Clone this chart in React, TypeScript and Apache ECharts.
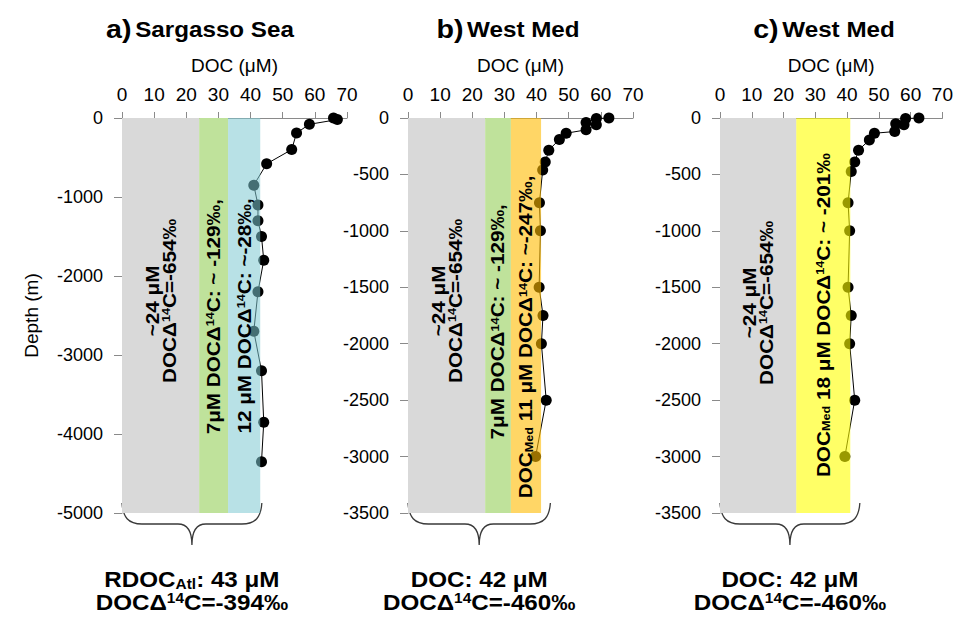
import React, { useEffect, useRef } from 'react';
import * as echarts from 'echarts';

const FONT = "'Liberation Sans', Arial, Helvetica, sans-serif";

// ---------- text / data ----------
const TITLE_LETTERS = ['a)', 'b)', 'c)'];
const TITLE_NAMES = ['Sargasso Sea', 'West Med', 'West Med'];
const X_AXIS_NAME = 'DOC (μM)';
const Y_AXIS_NAME = 'Depth (m)';
const DOC_MIN = 0;
const DOC_MAX = 70;
const DOC_STEP = 10;
const DEPTH_MIN = [-5000, -3500, -3500];
const DEPTH_STEP = [1000, 500, 500];

// a) Sargasso Sea profile
const DOC_A = [65.8, 67, 58.3, 54.3, 52.8, 45, 41, 42.3, 42.3, 43.4, 44.1, 42.3, 41, 43.4, 44.1, 43.4];
const DEPTH_A = [0, -20, -80, -190, -400, -580, -850, -1100, -1300, -1500, -1800, -2200, -2700, -3200, -3850, -4350];

// b) West Med profile
const DOC_B = [62.5, 58.6, 55.4, 58.6, 55.4, 49.2, 47.1, 43.8, 42.7, 41.9, 40.9, 41.2, 40.8, 42, 41.5, 43, 39.7];
const DEPTH_B = [0, -5, -40, -60, -105, -135, -190, -285, -390, -460, -750, -1000, -1500, -1750, -2000, -2500, -3000];

// c) West Med profile
const DOC_C = [62.6, 58.4, 55.3, 57.9, 55, 48.6, 47, 43.6, 42.4, 41.3, 40.3, 40.8, 40.3, 41.3, 40.8, 42.4, 39.3];
const DEPTH_C = [0, -5, -50, -60, -120, -135, -195, -285, -390, -475, -750, -1000, -1500, -1750, -2000, -2500, -3000];

// DOC pools (band extents in µM)
const BANDS_A = [[0, 24], [24, 33], [33, 43]];
const BANDS_B = [[0, 24], [24, 32], [32, 41.4]];
const BANDS_C = [[0, 24], [24, 41]];

const GRAY_LABEL = '{n|~24 μM}\n{n|DOCΔ}{s|14}{n|C=-654‰}';
const BAND_LABELS_A = [GRAY_LABEL, '{n|7μM DOCΔ}{s|14}{n|C: ~ -129‰,}', '{n|12 μM DOCΔ}{s|14}{n|C: ~-28‰,}'];
const BAND_LABELS_B = [GRAY_LABEL, '{n|7μM DOCΔ}{s|14}{n|C: ~ -129‰,}', '{n|DOC}{b|Med}{n| 11 μM DOCΔ}{s|14}{n|C: ~-247‰,}'];
const BAND_LABELS_C = [GRAY_LABEL, '{n|DOC}{b|Med}{n| 18 μM DOCΔ}{s|14}{n|C: ~ -201‰}'];

const BOTTOM_LABELS = [
  '{n|RDOC}{b|Atl}{n|: 43 μM}\n{n|DOCΔ}{s|14}{n|C=-394‰}',
  '{n|DOC: 42 μM}\n{n|DOCΔ}{s|14}{n|C=-460‰}',
  '{n|DOC: 42 μM}\n{n|DOCΔ}{s|14}{n|C=-460‰}',
];
const BRACE_END = [43.5, 44.3, 44];

// ---------- layout / style ----------
const GRID_LEFT = [122, 408, 720];
const GRID_TOP = 118;
const GRID_W = 225;
const GRID_H = 395;
const TITLE_X = [200, 508, 824];
const TITLE_Y = 29;
const AXIS_COLOR = '#8a8a8a';
const BAND_COLORS = [
  ['#d9d9d9', '#bfe29b', 'rgba(125,200,210,0.55)'],
  ['#d9d9d9', '#bfe29b', 'rgba(255,187,0,0.6)'],
  ['#d9d9d9', 'rgba(255,255,0,0.6)'],
];
const BAND_TEXT_FRAC = [
  [0.463, 0.503, 0.501],
  [0.463, 0.516, 0.554],
  [0.468, 0.499],
];
const BRACE_W = 140;
const BRACE_PATH =
  'M0 0 C1 14 6 21 20 21 L56 21 C65 21 70 27 70 42 C70 27 75 21 84 21 L120 21 C134 21 139 14 140 0';

const BAND_RICH = {
  n: { fontSize: 18, fontWeight: 'bold', fontFamily: FONT, color: '#000', lineHeight: 17 },
  s: { fontSize: 11, fontWeight: 'bold', fontFamily: FONT, color: '#000', lineHeight: 11, verticalAlign: 'top' },
  b: { fontSize: 11, fontWeight: 'bold', fontFamily: FONT, color: '#000', lineHeight: 10, verticalAlign: 'bottom' },
};
const BOTTOM_RICH = {
  n: { fontSize: 22, fontWeight: 'bold', fontFamily: FONT, color: '#000', lineHeight: 23 },
  s: { fontSize: 14, fontWeight: 'bold', fontFamily: FONT, color: '#000', lineHeight: 14, verticalAlign: 'top' },
  b: { fontSize: 14, fontWeight: 'bold', fontFamily: FONT, color: '#000', lineHeight: 12, verticalAlign: 'bottom' },
};
const TITLE_RICH = {
  p: { fontSize: 26, fontWeight: 'bold', fontFamily: FONT, color: '#000' },
  t: { fontSize: 22, fontWeight: 'bold', fontFamily: FONT, color: '#000' },
};

let braceRegistered = false;

export default function App() {
  const ref = useRef<HTMLDivElement>(null);

  useEffect(() => {
    if (!ref.current) return;
    if (!braceRegistered) {
      echarts.graphic.registerShape('brace', echarts.graphic.extendPath(BRACE_PATH, {}) as any);
      braceRegistered = true;
    }
    const chart = echarts.init(ref.current, undefined, { renderer: 'svg' });

    const panels = [
      { doc: DOC_A, depth: DEPTH_A, bands: BANDS_A, labels: BAND_LABELS_A },
      { doc: DOC_B, depth: DEPTH_B, bands: BANDS_B, labels: BAND_LABELS_B },
      { doc: DOC_C, depth: DEPTH_C, bands: BANDS_C, labels: BAND_LABELS_C },
    ];

    const grid = panels.map((_, i) => ({
      left: GRID_LEFT[i],
      top: GRID_TOP,
      width: GRID_W,
      height: GRID_H,
    }));

    const xAxis = panels.map((_, i) => ({
      type: 'value',
      gridIndex: i,
      position: 'top',
      min: DOC_MIN,
      max: DOC_MAX,
      interval: DOC_STEP,
      name: X_AXIS_NAME,
      nameLocation: 'middle',
      nameGap: 43,
      nameTextStyle: { fontSize: 19, color: '#000', fontFamily: FONT },
      axisLine: { show: true, onZero: false, lineStyle: { color: AXIS_COLOR, width: 1 } },
      axisTick: { show: true, length: 6, lineStyle: { color: AXIS_COLOR } },
      axisLabel: { fontSize: 19, color: '#000', fontFamily: FONT, margin: 14 },
      splitLine: { show: false },
    }));

    const yAxis = panels.map((_, i) => ({
      type: 'value',
      gridIndex: i,
      min: DEPTH_MIN[i],
      max: 0,
      interval: DEPTH_STEP[i],
      name: i === 0 ? Y_AXIS_NAME : '',
      nameLocation: 'middle',
      nameGap: 81,
      nameRotate: 90,
      nameTextStyle: { fontSize: 19, color: '#000', fontFamily: FONT },
      axisLine: { show: true, onZero: false, lineStyle: { color: AXIS_COLOR, width: 1 } },
      axisTick: { show: true, length: 8, lineStyle: { color: AXIS_COLOR } },
      axisLabel: {
        fontSize: 18,
        color: '#000',
        fontFamily: FONT,
        margin: 19,
        formatter: (v: number) => String(v),
      },
      splitLine: { show: false },
    }));

    const series: any[] = [];
    panels.forEach((p, i) => {
      series.push({
        type: 'custom',
        xAxisIndex: i,
        yAxisIndex: i,
        z: 5,
        clip: false,
        silent: true,
        encode: { x: [0, 1], y: 2 },
        data: p.bands.map((b, k) => [b[0], b[1], k]),
        renderItem: (params: any, api: any) => {
          const k = params.dataIndex;
          const x0 = api.coord([api.value(0), 0])[0];
          const x1 = api.coord([api.value(1), 0])[0];
          const cs = params.coordSys;
          return {
            type: 'group',
            children: [
              {
                type: 'rect',
                shape: { x: x0, y: cs.y, width: x1 - x0, height: cs.height },
                style: { fill: BAND_COLORS[i][k] },
              },
              {
                type: 'text',
                x: (x0 + x1) / 2,
                y: cs.y + cs.height * BAND_TEXT_FRAC[i][k],
                rotation: Math.PI / 2,
                scaleX: 1.15,
                style: {
                  text: p.labels[k],
                  rich: BAND_RICH,
                  align: 'center',
                  verticalAlign: 'middle',
                  fill: '#000',
                },
              },
            ],
          };
        },
      });
      series.push({
        type: 'line',
        xAxisIndex: i,
        yAxisIndex: i,
        z: 3,
        clip: false,
        silent: true,
        symbol: 'circle',
        symbolSize: 11,
        showSymbol: true,
        lineStyle: { color: '#000', width: 1 },
        itemStyle: { color: '#000' },
        data: p.doc.map((d, k) => [d, p.depth[k]]),
      });
    });

    chart.setOption({
      animation: false,
      textStyle: { fontFamily: FONT },
      grid,
      xAxis,
      yAxis,
      series,
    });

    const gfx: any[] = [];
    panels.forEach((_, i) => {
      gfx.push({
        type: 'text',
        x: TITLE_X[i],
        y: TITLE_Y,
        scaleX: 1.1,
        style: {
          text: `{p|${TITLE_LETTERS[i]}} {t|${TITLE_NAMES[i]}}`,
          rich: TITLE_RICH,
          align: 'center',
          verticalAlign: 'middle',
        },
      });
      const l = chart.convertToPixel({ gridIndex: i } as any, [DOC_MIN, DEPTH_MIN[i]]) as number[];
      const r = chart.convertToPixel({ gridIndex: i } as any, [BRACE_END[i], DEPTH_MIN[i]]) as number[];
      gfx.push({
        type: 'brace',
        x: l[0],
        y: l[1] - 10,
        scaleX: (r[0] - l[0]) / BRACE_W,
        style: { stroke: '#3a3a3a', fill: 'none', lineWidth: 1.3 },
        silent: true,
      });
      gfx.push({
        type: 'text',
        x: (l[0] + r[0]) / 2,
        y: l[1] + 78,
        scaleX: 1.1,
        style: {
          text: BOTTOM_LABELS[i],
          rich: BOTTOM_RICH,
          align: 'center',
          verticalAlign: 'middle',
        },
      });
    });
    chart.setOption({ graphic: gfx });

    return () => chart.dispose();
  }, []);

  return (
    <div
      ref={ref}
      style={{ position: 'fixed', left: 0, top: 0, width: 956, height: 622, background: '#fff' }}
    />
  );
}
